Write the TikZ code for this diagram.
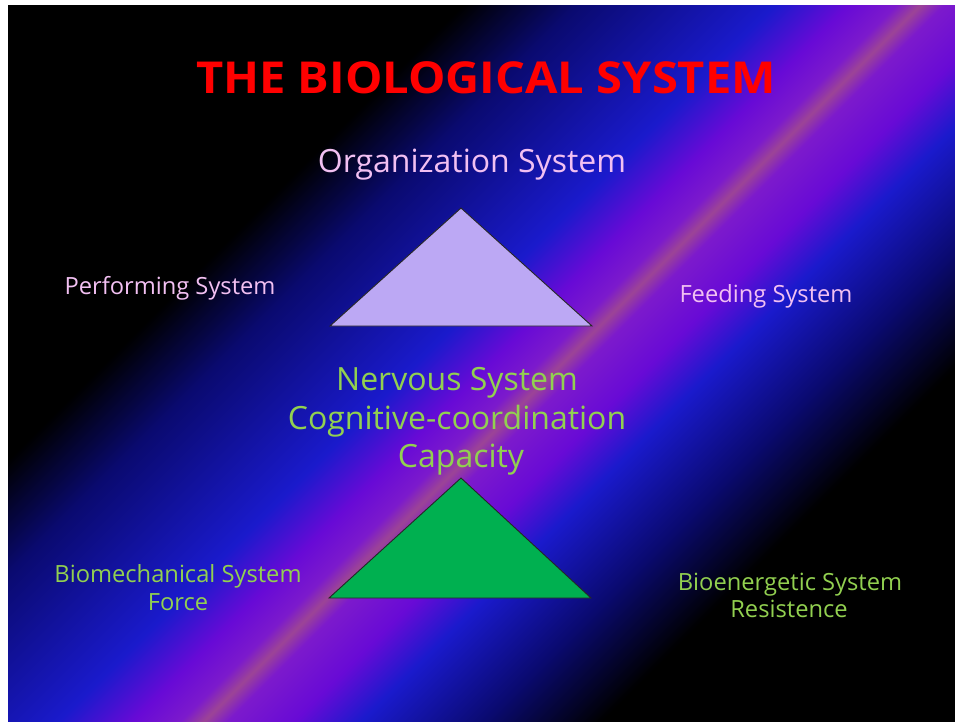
\documentclass[tikz,border=0pt]{standalone}
\usepackage{fontspec}
\setmainfont{Open Sans}
\newfontfamily\titlefont[FakeStretch=1.07]{Open Sans}

% slide background colours
\definecolor{bgNavy}{RGB}{10,10,112}
\definecolor{bgBlue}{RGB}{26,26,204}
\definecolor{bgPurple}{RGB}{104,10,214}
\definecolor{bgViolet}{RGB}{124,26,204}
\definecolor{bgMauve}{RGB}{156,68,150}
% text and shape colours
\definecolor{titleRed}{RGB}{255,0,0}
\definecolor{labelPink}{RGB}{242,192,242}
\definecolor{labelGreen}{RGB}{146,208,80}
\definecolor{triLavender}{RGB}{188,168,244}
\definecolor{triGreen}{RGB}{0,176,80}

% diagonal band: black - navy - blue - purple - mauve - purple - blue - navy - black
\pgfdeclarehorizontalshading{slidebg}{100bp}{%
  color(0bp)=(black);
  color(38.4bp)=(black);
  color(41.3bp)=(bgNavy);
  color(46.3bp)=(bgBlue);
  color(48.2bp)=(bgPurple);
  color(49.4bp)=(bgViolet);
  color(50bp)=(bgMauve);
  color(50.6bp)=(bgViolet);
  color(52.3bp)=(bgPurple);
  color(54.0bp)=(bgBlue);
  color(57.1bp)=(bgNavy);
  color(60.1bp)=(black);
  color(100bp)=(black)}

\tikzset{
  smalltext/.style={anchor=base, inner sep=0pt, font=\fontsize{23.7}{28}\selectfont},
  pinklabel/.style={smalltext, text=labelPink},
  greenlabel/.style={smalltext, text=labelGreen},
  bigtext/.style={anchor=base, inner sep=0pt, font=\fontsize{32}{38}\selectfont},
  tri/.style={draw=black!85, line width=0.9pt, line join=miter},
}

\begin{document}
\begin{tikzpicture}[x=1pt, y=-1pt]
  \useasboundingbox (0,0) rectangle (955,721);
  \fill[white] (0,0) rectangle (955,721);

  % slide background
  \begin{scope}
    \clip (8,5) rectangle (955,721);
    \shade[shading=slidebg, shading angle=-45]
      (-237.5,-237.5) rectangle (1162.5,1162.5);
  \end{scope}

  % title
  \node[anchor=base, inner sep=0pt, text=titleRed,
        font=\titlefont\fontsize{44}{50}\selectfont\bfseries] (title) at (486,93)
        {THE BIOLOGICAL SYSTEM};

  % upper triangle and its labels
  \coordinate (uTop) at (461,208);
  \coordinate (uLeft) at (330,326);
  \coordinate (uRight) at (592,326);
  \filldraw[tri, fill=triLavender] (uTop) -- (uLeft) -- (uRight) -- cycle;

  \node[bigtext, text=labelPink] (organization) at (472,172) {Organization System};
  \node[pinklabel] (performing) at (170,294) {Performing System};
  \node[pinklabel] (feeding) at (766,302) {Feeding System};

  % centre labels
  \node[bigtext, text=labelGreen] (nervous) at (457,390) {Nervous System};
  \node[bigtext, text=labelGreen] (cognitive) at (457,429.5) {Cognitive-coordination};
  \node[bigtext, text=labelGreen] (capacity) at (461,467) {Capacity};

  % lower triangle and its labels
  \coordinate (lTop) at (461,478);
  \coordinate (lLeft) at (329,598);
  \coordinate (lRight) at (591,598);
  \filldraw[tri, fill=triGreen] (lTop) -- (lLeft) -- (lRight) -- cycle;

  \node[greenlabel] (biomech) at (178,582) {Biomechanical System};
  \node[greenlabel] (force) at (178,610) {Force};
  \node[greenlabel] (bioenerg) at (790,590) {Bioenergetic System};
  \node[greenlabel] (resist) at (789,617) {Resistence};
\end{tikzpicture}
\end{document}
